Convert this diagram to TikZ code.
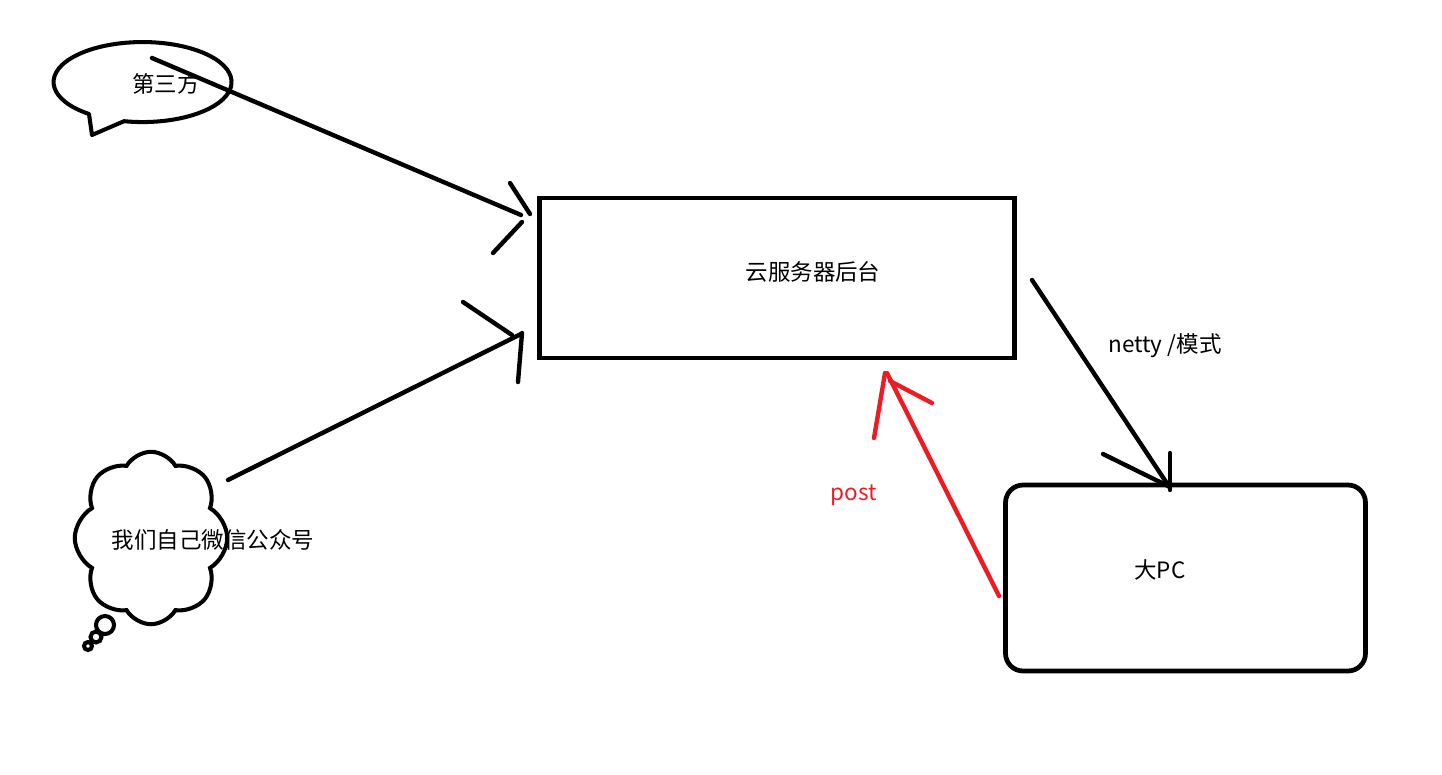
\documentclass[tikz,border=0pt]{standalone}
\usepackage{fontspec}
\setmainfont{Noto Sans CJK SC}
\usetikzlibrary{shapes.symbols}
\begin{document}
\begin{tikzpicture}[x=0.02cm,y=-0.02cm,
  stroke/.style={line width=2.5pt,line cap=round,line join=round},
  lbl/.style={font=\fontsize{12.8}{15}\selectfont,inner sep=0pt},
  redline/.style={stroke,draw={rgb,255:red,237;green,28;blue,36}}]
\useasboundingbox (0,0) rectangle (1442,774);
% speech bubble
\draw[line width=2.3pt,line join=round] (89,114) arc[start angle=127,end angle=462,x radius=89,y radius=40] -- (92,135) -- cycle;
\node[lbl] (third) at (166,84) {第三方};
% cloud
\node[cloud,draw,line width=2.3pt,cloud puffs=8,cloud puff arc=120,aspect=0.85,minimum width=3.05cm,minimum height=3.45cm] (cloudn) at (151,538) {};
\draw[line width=2.3pt] (105,625) circle[radius=9] (96,637) circle[radius=5.5] (88,646) circle[radius=4];
\node[lbl] (wechat) at (213,540) {我们自己微信公众号};
% server box
\node[draw,line width=2.7pt,minimum width=9.5cm,minimum height=3.2cm] (server) at (777,278) {};
\node[lbl] (servert) at (813,272) {云服务器后台};
% PC box
\node[draw,line width=2.7pt,rounded corners=0.35cm,minimum width=7.2cm,minimum height=3.72cm] (pc) at (1185.5,578) {};
\node[lbl] (pct) at (1160,570) {大PC};
% arrow third -> server
\coordinate (t1) at (152,58); \coordinate (t2) at (521,215);
\draw[stroke] (t1) -- (t2);
\draw[stroke] (510,183) -- (530,214);
\draw[stroke] (522,222) -- (493,253);
% arrow wechat -> server
\coordinate (w1) at (228,480); \coordinate (w2) at (521,334);
\draw[stroke] (w1) -- (w2);
\draw[stroke] (463,302) -- (512,335);
\draw[stroke] (522,333) -- (518,382);
% netty arrow
\coordinate (n1) at (1032,280); \coordinate (n2) at (1170,488);
\draw[stroke] (n1) -- (n2);
\draw[stroke] (1103,454) -- (1168,486);
\draw[stroke] (1170,453) -- (1170,490);
\node[lbl] (nettyt) at (1165,346) {netty /模式};
% post arrow
\coordinate (p1) at (999,596); \coordinate (p2) at (887,373);
\draw[redline] (p1) -- (p2);
\draw[redline] (885,373) -- (874,438);
\draw[redline] (890,381) -- (932,403);
\node[lbl,text={rgb,255:red,237;green,28;blue,36}] (postt) at (854,495) {post};
\end{tikzpicture}
\end{document}
